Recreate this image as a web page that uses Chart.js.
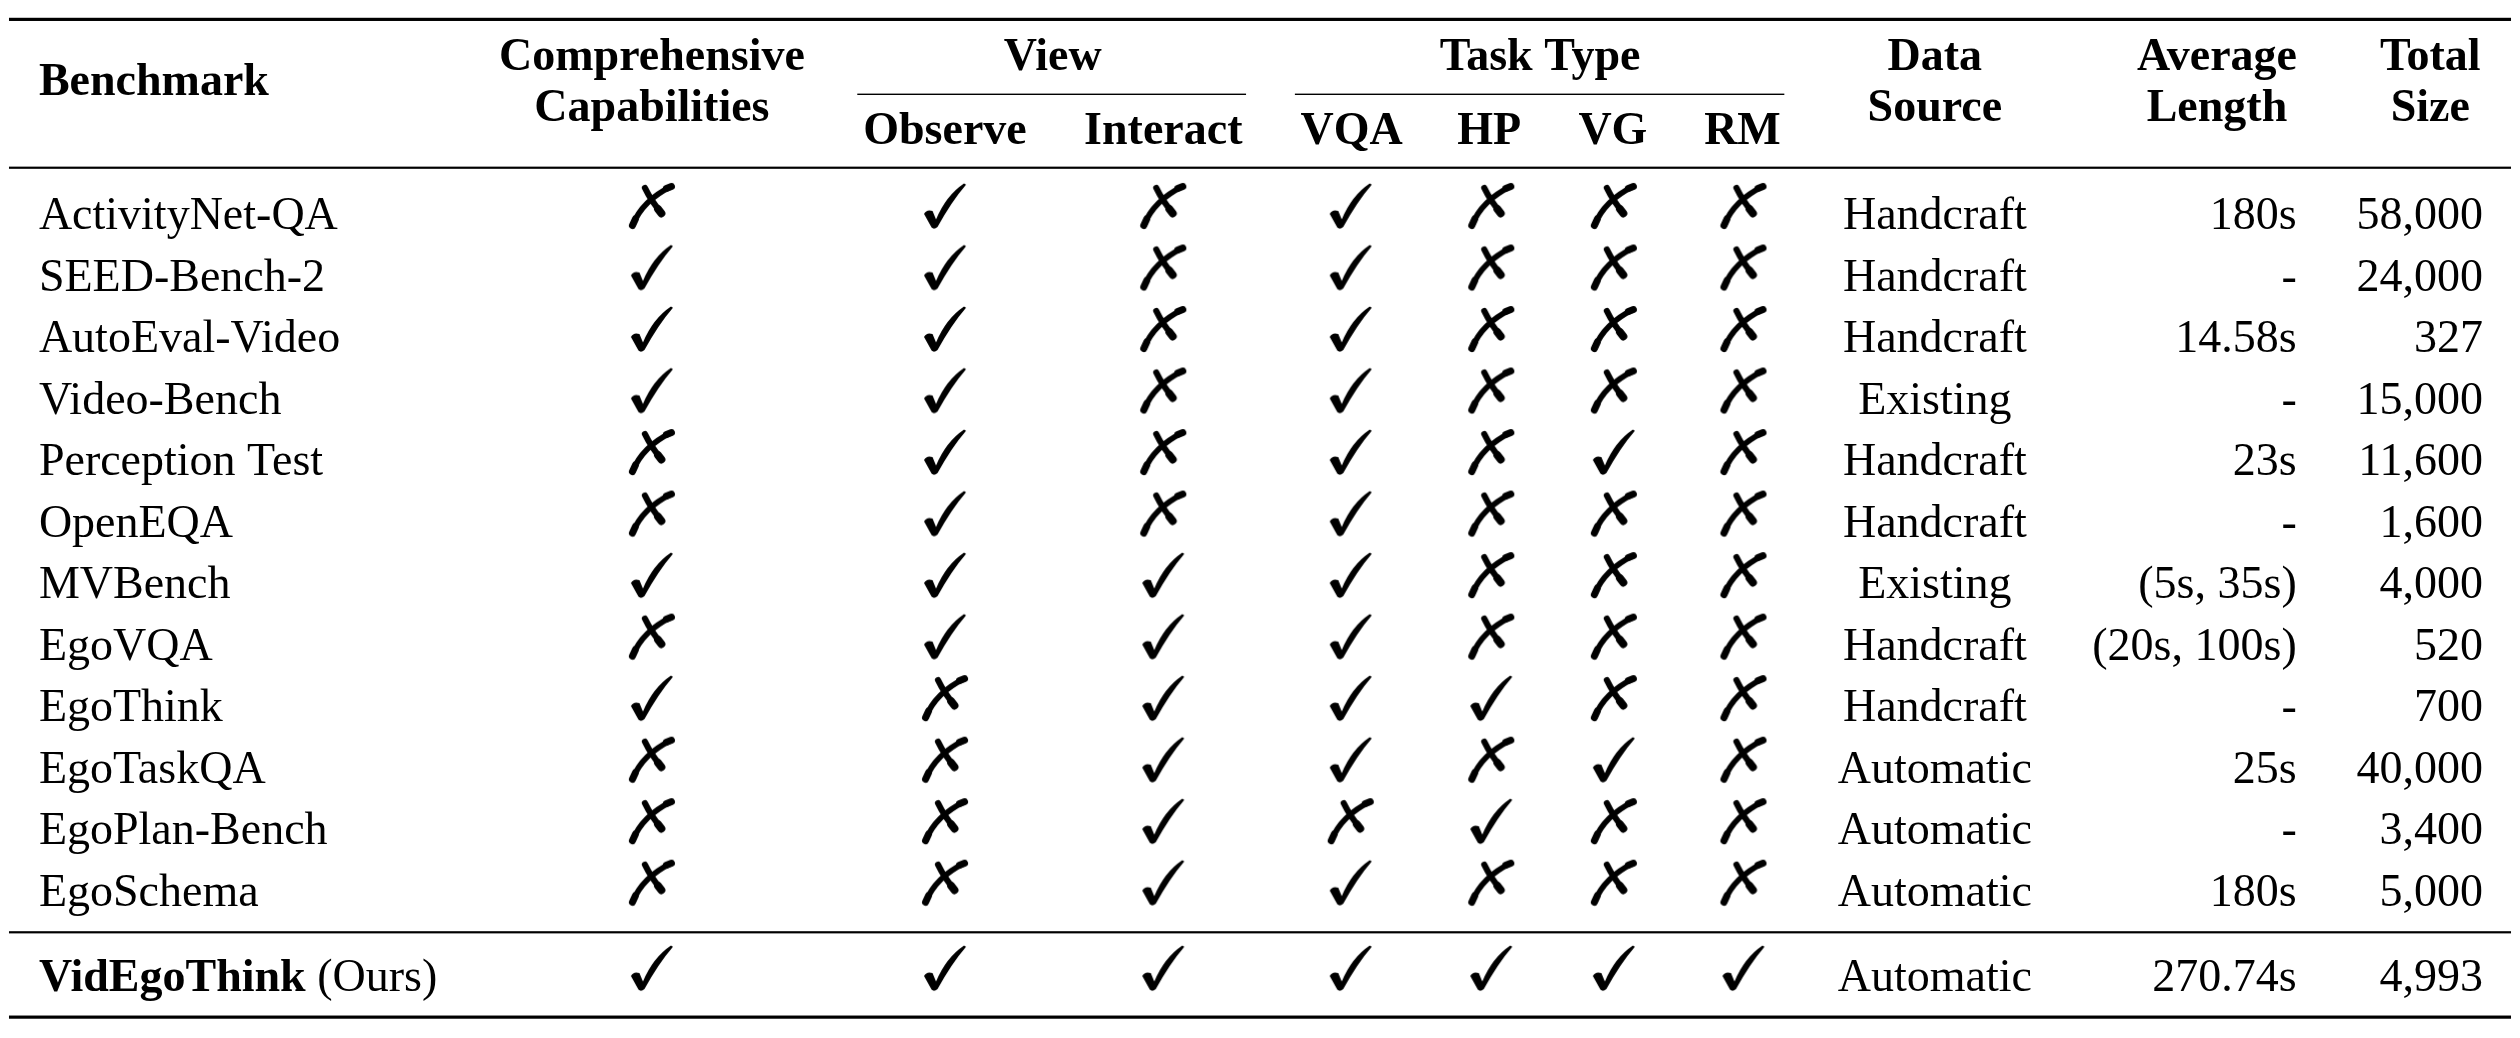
<!DOCTYPE html>
<html>
<head>
<meta charset="utf-8">
<script src="https://cdn.jsdelivr.net/npm/chart.js@4.4.1/dist/chart.umd.min.js"></script>
<style>
  html, body { margin: 0; padding: 0; background: #fff; }
  #wrap { width: 2520px; height: 1038px; position: relative; }
</style>
</head>
<body>
<div id="wrap"><canvas id="myChart"></canvas></div>
<script>
// table data (1 = check, 0 = cross)
const benchmarks = ['ActivityNet-QA', 'SEED-Bench-2', 'AutoEval-Video', 'Video-Bench', 'Perception Test',
  'OpenEQA', 'MVBench', 'EgoVQA', 'EgoThink', 'EgoTaskQA', 'EgoPlan-Bench', 'EgoSchema', 'VidEgoThink'];
const comprehensive = [0, 1, 1, 1, 0, 0, 1, 0, 1, 0, 0, 0, 1];
const observe       = [1, 1, 1, 1, 1, 1, 1, 1, 0, 0, 0, 0, 1];
const interact      = [0, 0, 0, 0, 0, 0, 1, 1, 1, 1, 1, 1, 1];
const vqa           = [1, 1, 1, 1, 1, 1, 1, 1, 1, 1, 0, 1, 1];
const hp            = [0, 0, 0, 0, 0, 0, 0, 0, 1, 0, 1, 0, 1];
const vg            = [0, 0, 0, 0, 1, 0, 0, 0, 0, 1, 0, 0, 1];
const rm            = [0, 0, 0, 0, 0, 0, 0, 0, 0, 0, 0, 0, 1];
const dataSource = ['Handcraft', 'Handcraft', 'Handcraft', 'Existing', 'Handcraft', 'Handcraft', 'Existing',
  'Handcraft', 'Handcraft', 'Automatic', 'Automatic', 'Automatic', 'Automatic'];
const avgLength = ['180s', '-', '14.58s', '-', '23s', '-', '(5s, 35s)', '(20s, 100s)', '-', '25s', '-', '180s', '270.74s'];
const totalSize = ['58,000', '24,000', '327', '15,000', '11,600', '1,600', '4,000', '520', '700', '40,000', '3,400', '5,000', '4,993'];
const oursSuffix = ' (Ours)';

// header labels
const firstHead = 'Benchmark';
const twoLineHeads = [['Comprehensive', 'Capabilities'], ['Data', 'Source'], ['Average', 'Length'], ['Total', 'Size']];
const groupHeads = ['View', 'Task Type'];
const subHeads = ['Observe', 'Interact', 'VQA', 'HP', 'VG', 'RM'];

// layout (pixels on the hidden linear scales)
const markCols = [650, 944, 1163, 1351, 1492, 1615, 1745];
const nameX = 35, sourceX = 1937, avgRight = 2300, sizeRight = 2487;
const twoLineX = [650, 1937, 2220, 2434];
const groupX = [1052, 1541];
const groupRule = [[856, 1246], [1295, 1786]];
const subX = [944, 1163, 1352, 1490, 1614, 1744];
const ruleLeft = 5, ruleRight = 2515;
const FONT = '"Liberation Serif", "Times New Roman", serif';

function baseline(r) {
  return r < 12 ? 227 + 62 * r : 995;
}

// pifont-like check / cross drawn on small canvases used as point styles
function makeCheck() {
  const c = document.createElement('canvas');
  c.width = 50; c.height = 50;
  const g = c.getContext('2d');
  g.translate(4, 2.5);
  g.fillStyle = '#000';
  g.beginPath();
  g.moveTo(0, 30.5);
  g.quadraticCurveTo(2.5, 25.5, 8.5, 27.5);
  g.lineTo(12, 36);
  g.quadraticCurveTo(22, 12, 40, 0);
  g.lineTo(42, 1.2);
  g.quadraticCurveTo(27.5, 18, 13.5, 43.5);
  g.quadraticCurveTo(10, 46.5, 7.5, 44);
  g.closePath();
  g.fill();
  return c;
}

function makeCross() {
  const c = document.createElement('canvas');
  c.width = 50; c.height = 50;
  const g = c.getContext('2d');
  g.translate(2.5, 2.5);
  g.strokeStyle = '#000';
  g.lineCap = 'round';
  // long stroke, bottom-left to top-right
  g.lineWidth = 5.8;
  g.beginPath();
  g.moveTo(3, 42);
  g.quadraticCurveTo(13, 17, 42, 3);
  g.stroke();
  g.lineWidth = 7;
  g.beginPath();
  g.moveTo(3, 42);
  g.lineTo(6, 35.5);
  g.stroke();
  g.beginPath();
  g.moveTo(37, 5);
  g.lineTo(42, 3);
  g.stroke();
  // short stroke, top-left to lower-right
  g.lineWidth = 6.2;
  g.beginPath();
  g.moveTo(15.5, 4.5);
  g.quadraticCurveTo(22, 18, 32, 29.5);
  g.stroke();
  g.lineWidth = 7.8;
  g.beginPath();
  g.moveTo(28.5, 25.5);
  g.lineTo(32, 30);
  g.stroke();
  return c;
}

const checkImg = makeCheck();
const crossImg = makeCross();

const markData = [comprehensive, observe, interact, vqa, hp, vg, rm];
const checks = [];
const crosses = [];
for (let c = 0; c < markData.length; c++) {
  for (let r = 0; r < benchmarks.length; r++) {
    const pt = { x: markCols[c], y: baseline(r) - 23.5 };
    if (markData[c][r]) checks.push(pt); else crosses.push(pt);
  }
}

const tablePlugin = {
  id: 'tableText',
  beforeDraw(chart) {
    const ctx = chart.ctx;
    ctx.save();
    ctx.fillStyle = '#fff';
    ctx.fillRect(0, 0, chart.width, chart.height);
    ctx.restore();
  },
  afterDatasetsDraw(chart) {
    const ctx = chart.ctx;
    const xs = chart.scales.x, ys = chart.scales.y;
    const px = v => xs.getPixelForValue(v);
    const py = v => ys.getPixelForValue(v);

    function text(str, x, y, align, bold) {
      ctx.font = (bold ? 'bold ' : '') + '46px ' + FONT;
      ctx.textAlign = align;
      ctx.fillText(str, px(x), py(y));
    }
    function rule(x0, x1, y, w) {
      ctx.fillRect(px(x0), py(y) - w / 2, px(x1) - px(x0), w);
    }

    ctx.save();
    ctx.fillStyle = '#000';
    ctx.textBaseline = 'alphabetic';

    // rules
    rule(ruleLeft, ruleRight, 15.5, 3.2);
    rule(ruleLeft, ruleRight, 165, 2.2);
    rule(ruleLeft, ruleRight, 935.5, 2.2);
    rule(ruleLeft, ruleRight, 1021, 3.2);
    groupRule.forEach(g => rule(g[0], g[1], 91, 1.4));

    // header
    text(firstHead, nameX, 92, 'left', true);
    twoLineHeads.forEach((h, i) => {
      text(h[0], twoLineX[i], 67, 'center', true);
      text(h[1], twoLineX[i], 118, 'center', true);
    });
    groupHeads.forEach((h, i) => text(h, groupX[i], 67, 'center', true));
    subHeads.forEach((h, i) => text(h, subX[i], 141, 'center', true));

    // body
    for (let r = 0; r < benchmarks.length; r++) {
      const y = baseline(r);
      if (r === benchmarks.length - 1) {
        text(benchmarks[r], nameX, y, 'left', true);
        const w = ctx.measureText(benchmarks[r]).width;
        ctx.font = '46px ' + FONT;
        ctx.textAlign = 'left';
        ctx.fillText(oursSuffix, px(nameX) + w, py(y));
      } else {
        text(benchmarks[r], nameX, y, 'left', false);
      }
      text(dataSource[r], sourceX, y, 'center', false);
      text(avgLength[r], avgRight, y, 'right', false);
      text(totalSize[r], sizeRight, y, 'right', false);
    }
    ctx.restore();
  }
};

const ctx = document.getElementById('myChart').getContext('2d');
const myChart = new Chart(ctx, {
  type: 'scatter',
  data: {
    datasets: [{
      label: 'check',
      data: checks,
      pointStyle: checkImg,
      pointRadius: 3,
      pointHoverRadius: 3
    }, {
      label: 'cross',
      data: crosses,
      pointStyle: crossImg,
      pointRadius: 3,
      pointHoverRadius: 3
    }]
  },
  options: {
    responsive: true,
    maintainAspectRatio: false,
    animation: false,
    events: [],
    layout: { padding: 0 },
    plugins: {
      legend: { display: false },
      tooltip: { enabled: false }
    },
    scales: {
      x: { type: 'linear', display: false, min: 0, max: 2520 },
      y: { type: 'linear', display: false, min: 0, max: 1038, reverse: true }
    }
  },
  plugins: [tablePlugin]
});
</script>
</body>
</html>
